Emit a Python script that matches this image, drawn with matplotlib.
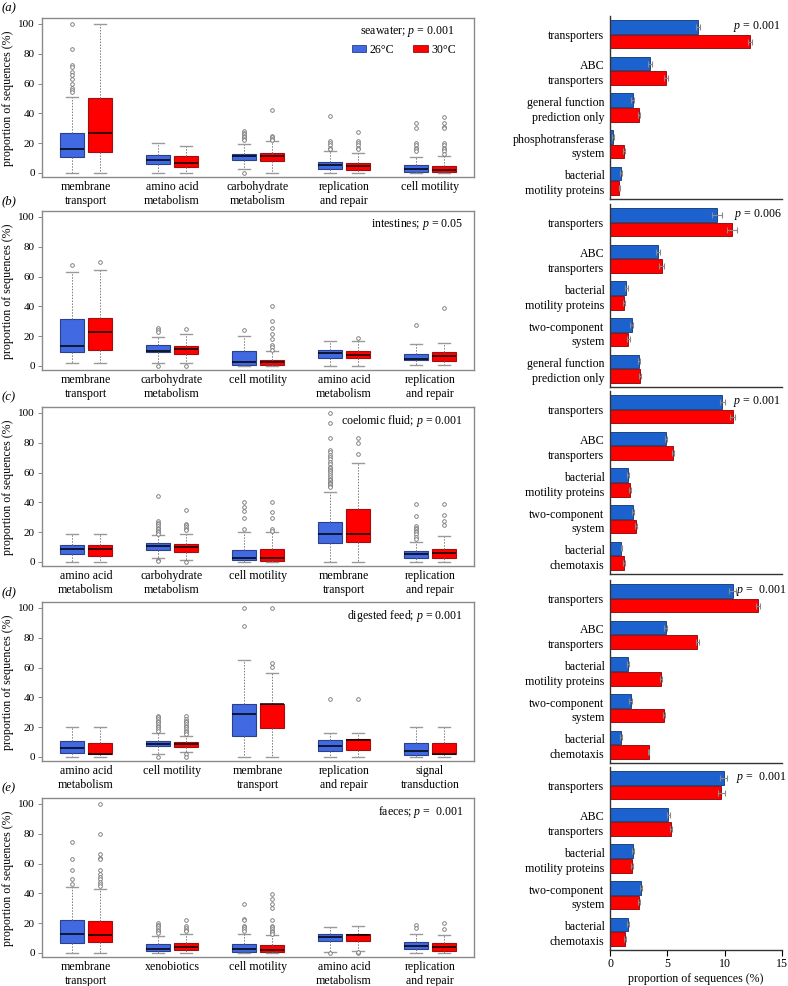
import matplotlib
matplotlib.use("Agg")
import matplotlib.pyplot as plt
from matplotlib.patches import Patch

plt.rcParams['font.family'] = ['Liberation Serif', 'DejaVu Serif']
plt.rcParams['mathtext.fontset'] = 'custom'
plt.rcParams['mathtext.it'] = 'Liberation Serif:italic'
plt.rcParams['mathtext.rm'] = 'Liberation Serif'

# ---------------- data: left panels (boxplots: lo, q1, median, q3, hi) ----------------
A_CATS = ["membrane\ntransport", "amino acid\nmetabolism", "carbohydrate\nmetabolism", "replication\nand repair", "cell motility"]
A_26 = [[0, 10.5, 16, 26.8, 51], [0, 5.8, 9, 12.3, 20], [2.5, 9, 11.2, 13, 19.5], [0, 3, 5.4, 7.4, 14.5], [0, 0.7, 3, 5.4, 10.7]]
A_26_OUT = [[100, 83, 72.5, 71, 68, 65.5, 63, 60, 57, 56, 54.5], [], [28, 27, 26, 25, 24, 23, 22, 0], [38, 21.5, 20, 18.5, 17, 16], [33.5, 30, 20, 18.5, 17, 16, 14.5]]
A_30 = [[0, 14.3, 27, 50, 100], [0, 4, 6.5, 11.2, 18], [0, 8, 11.2, 13.4, 21.5], [0, 1.8, 4.7, 6.7, 13.6], [0, 0.4, 2.2, 4.7, 11.2]]
A_30_OUT = [[], [], [42, 25, 24, 23, 22], [27.5, 21.7, 20, 18.8, 17, 16], [37.6, 33.5, 31, 30, 20, 18.5, 17, 16, 14.5, 12.5]]
A_TITLE = "seawater; $p$ = 0.001"

B_CATS = ["membrane\ntransport", "carbohydrate\nmetabolism", "cell motility", "amino acid\nmetabolism", "replication\nand repair"]
B_26 = [[2.2, 9.6, 13.4, 31.8, 63], [2.2, 9.2, 10.3, 14.3, 19.2], [0, 0.9, 2.9, 9.8, 20.4], [0, 5.4, 9, 11, 16.6], [0.4, 3.8, 4.7, 8.3, 14.8]]
B_26_OUT = [[68], [25.5, 24.4, 23, 0], [24], [], [27.3]]
B_30 = [[2.2, 10.7, 23, 32.4, 64.4], [2.2, 8.3, 11.4, 13.6, 21.3], [0, 0.7, 2.5, 4.3, 10], [0, 5.4, 7.6, 9.8, 17], [0.4, 3.4, 6.7, 9.2, 15.7]]
B_30_OUT = [[70], [25, 0], [40, 30, 25.5, 21.5, 18.3, 13.9, 12.8, 11], [18.8], [38.7]]
B_TITLE = "intestines; $p$ = 0.05"

C_CATS = ["amino acid\nmetabolism", "carbohydrate\nmetabolism", "cell motility", "membrane\ntransport", "replication\nand repair"]
C_26 = [[0, 5.4, 9, 11.7, 18.9], [2.7, 8.3, 10.6, 12.4, 17.8], [0, 1.1, 2.9, 8.3, 19.8], [0, 13, 18.9, 27, 46.7], [0, 2.9, 5.2, 7.2, 13.5]]
C_26_OUT = [[], [44, 27.4, 26.3, 25.2, 24, 23, 22, 21, 20, 19, 1.5, 0.5], [40, 37, 34, 29.7, 21.8],
            [100, 93.3, 83, 75, 73.5, 72, 70.5, 69, 67, 65.5, 64, 63, 62, 61, 60, 58.5, 57, 56, 55, 54, 53, 52, 51, 50.5],
            [38.6, 31, 24.3, 23, 22, 21, 20, 18.5, 17, 15.3]]
C_30 = [[0, 4.3, 8.8, 11.5, 18.9], [1.1, 6.7, 9.9, 12.1, 19.1], [0, 0.9, 2.9, 8.8, 19.8], [0, 13.3, 19.1, 35.7, 66.7], [0, 2.9, 5.8, 9, 17.5]]
C_30_OUT = [[], [34.6, 25.8, 24.7, 23.5, 22.4, 21.3, 0], [40, 33.3, 29.7, 21.8, 20.9], [83.4, 79.8, 72.6], [38.6, 31.7, 27.4, 24.7]]
C_TITLE = "coelomic fluid; $p$ = 0.001"

D_CATS = ["amino acid\nmetabolism", "cell motility", "membrane\ntransport", "replication\nand repair", "signal\ntransduction"]
D_26 = [[0, 2.6, 5.7, 10.8, 19.9], [2, 7.1, 8.6, 11, 16.3], [0, 14.1, 29.1, 35.5, 65.1], [0, 3.8, 7.7, 11.7, 15.9], [0, 1.3, 4, 9.7, 19.9]]
D_26_OUT = [[], [27.6, 26.5, 25.4, 24.3, 23.2, 22.1, 21, 19.9, 18.8, 17.7, 0], [100, 87.9], [38.6], []]
D_30 = [[0, 1.8, 2.2, 9.7, 19.9], [3.1, 6.8, 8.4, 9.9, 14.1], [0, 19.6, 35.5, 35.8, 56.5], [0, 4.4, 11.5, 11.9, 15.9], [0, 1.8, 2.0, 9.7, 19.9]]
D_30_OUT = [[], [27.6, 25.4, 24.3, 23.2, 22.1, 21, 19.9, 18.8, 17.7, 16.6, 15.5, 1.8, 0], [100, 62.9, 60.3], [38.6], []]
D_TITLE = "digested feed; $p$ = 0.001"

E_CATS = ["membrane\ntransport", "xenobiotics", "cell motility", "amino acid\nmetabolism", "replication\nand repair"]
E_26 = [[0, 6.5, 13, 22.4, 44.5], [0, 1.3, 2.7, 5.8, 11.6], [0, 0.9, 2.9, 6.3, 13], [0.9, 8, 11, 13, 17.7], [0, 3, 5, 7.5, 13]]
E_26_OUT = [[74.3, 62.9, 55.5, 49.9, 46.5], [20.1, 19, 17.9, 16.8, 15.7, 14.6, 13.4], [33.1, 23, 21.9, 18.3, 17.2, 16.1, 15], [0], [18.5, 17]]
E_30 = [[0, 7.6, 11.9, 21.5, 42.7], [0, 2, 4, 6.9, 13], [0, 0.9, 2.2, 5.6, 12.3], [1.6, 8.3, 12, 13, 18.3], [0, 1.5, 4, 7, 12]]
E_30_OUT = [[100, 80, 66.2, 64, 62.9, 55.5, 53.2, 51, 49.4, 47.6, 46, 44.7], [21.9, 17.9, 16.8, 15.7, 14.5],
            [39.8, 36.2, 33.1, 30, 21.9, 18.3, 17.2, 16.1, 15, 13.9, 12.8], [0, 0.5], [20, 16]]
E_TITLE = "faeces; $p$ =  0.001"

Y_TICKS = [0, 20, 40, 60, 80, 100]

# ---------------- data: right panels (mean proportion, error) ----------------
RA_CATS = ["transporters", "ABC\ntransporters", "general function\nprediction only", "phosphotransferase\nsystem", "bacterial\nmotility proteins"]
RA_26 = [7.67, 3.49, 1.97, 0.29, 0.96]
RA_30 = [12.2, 4.88, 2.55, 1.25, 0.81]
RA_26_ERR = [0.2, 0.15, 0.12, 0.1, 0.1]
RA_30_ERR = [0.2, 0.15, 0.1, 0.1, 0.05]
RA_P = "$p$ = 0.001"

RB_CATS = ["transporters", "ABC\ntransporters", "bacterial\nmotility proteins", "two-component\nsystem", "general function\nprediction only"]
RB_26 = [9.36, 4.18, 1.42, 1.89, 2.5]
RB_30 = [10.66, 4.5, 1.22, 1.6, 2.6]
RB_26_ERR = [0.45, 0.2, 0.12, 0.12, 0.1]
RB_30_ERR = [0.45, 0.2, 0.12, 0.12, 0.08]
RB_P = "$p$ = 0.006"

RC_CATS = ["transporters", "ABC\ntransporters", "bacterial\nmotility proteins", "two-component\nsystem", "bacterial\nchemotaxis"]
RC_26 = [9.8, 4.9, 1.6, 2.0, 1.0]
RC_30 = [10.7, 5.5, 1.75, 2.26, 1.2]
RC_26_ERR = [0.2, 0.1, 0.1, 0.1, 0.08]
RC_30_ERR = [0.2, 0.1, 0.1, 0.1, 0.08]
RC_P = "$p$ = 0.001"

RD_CATS = ["transporters", "ABC\ntransporters", "bacterial\nmotility proteins", "two-component\nsystem", "bacterial\nchemotaxis"]
RD_26 = [10.7, 4.85, 1.54, 1.8, 0.99]
RD_30 = [12.9, 7.6, 4.45, 4.68, 3.37]
RD_26_ERR = [0.3, 0.12, 0.1, 0.1, 0.08]
RD_30_ERR = [0.2, 0.12, 0.1, 0.1, 0.05]
RD_P = "$p$ =  0.001"

RE_CATS = ["transporters", "ABC\ntransporters", "bacterial\nmotility proteins", "two-component\nsystem", "bacterial\nchemotaxis"]
RE_26 = [9.9, 5.1, 2.03, 2.68, 1.54]
RE_30 = [9.7, 5.32, 1.89, 2.5, 1.34]
RE_26_ERR = [0.3, 0.12, 0.1, 0.1, 0.08]
RE_30_ERR = [0.3, 0.12, 0.1, 0.1, 0.08]
RE_P = "$p$ =  0.001"

X_TICKS = [0, 5, 10, 15]
PANEL_LABELS = ["(a)", "(b)", "(c)", "(d)", "(e)"]

# ---------------- style ----------------
BLUE_BOX = "#4169E1"
BLUE_BOX_EDGE = "#2B3F8A"
RED_BOX = "#FF0000"
RED_BOX_EDGE = "#A01010"
BLUE_BAR = "#1C62CF"
BLUE_BAR_EDGE = "#0F3572"
RED_BAR = "#FF0000"
RED_BAR_EDGE = "#8A0000"
FRAME = "#8A8A8A"
FS = 8.6
FS_TICK = 8.0

W, H = 788, 986
fig = plt.figure(figsize=(W / 100, H / 100), dpi=100)


def ax_at(x0, y0, x1, y1):
    return fig.add_axes([x0 / W, 1 - y1 / H, (x1 - x0) / W, (y1 - y0) / H])


def stats_of(five, outs):
    res = []
    for f, o in zip(five, outs):
        res.append(dict(whislo=f[0], q1=f[1], med=f[2], q3=f[3], whishi=f[4], fliers=o, label=""))
    return res


def draw_box_panel(ax, cats, s26, o26, s30, o30, title, legend=False):
    n = len(cats)
    centers = list(range(1, n + 1))
    off = 0.163
    for five, outs, fc, ec, d in [(s26, o26, BLUE_BOX, BLUE_BOX_EDGE, -off), (s30, o30, RED_BOX, RED_BOX_EDGE, off)]:
        st = stats_of(five, outs)
        ax.bxp(st, positions=[c + d for c in centers], widths=0.27, capwidths=0.14,
               patch_artist=True, showfliers=True,
               boxprops=dict(facecolor=fc, edgecolor=ec, linewidth=0.8),
               medianprops=dict(color="black", linewidth=1.1),
               whiskerprops=dict(color="#7a7a7a", linewidth=0.7, linestyle=(0, (1.5, 1.5))),
               capprops=dict(color="#9a9a9a", linewidth=1.0),
               flierprops=dict(marker="o", markersize=2.6, markerfacecolor="white",
                               markeredgecolor="#707070", markeredgewidth=0.6, linestyle="none"))
    ax.set_xlim(0.488, 5.512)
    ax.set_ylim(-2.7, 104)
    ax.set_xticks(centers)
    ax.set_xticklabels(cats, fontsize=FS, linespacing=1.15)
    ax.tick_params(axis="x", length=0, pad=3)
    ax.set_yticks(Y_TICKS)
    ax.set_yticklabels([str(v) for v in Y_TICKS], fontsize=FS_TICK)
    ax.tick_params(axis="y", length=3, width=0.7, color=FRAME, pad=2)
    for sp in ax.spines.values():
        sp.set_color(FRAME)
        sp.set_linewidth(1.0)
    if legend:
        ax.text(0.954, 0.915, title, transform=ax.transAxes, ha="right", va="center", fontsize=FS)
        handles = [Patch(facecolor=BLUE_BOX, edgecolor=BLUE_BOX_EDGE, linewidth=0.6),
                   Patch(facecolor=RED_BOX, edgecolor=RED_BOX_EDGE, linewidth=0.6)]
        ax.legend(handles, ["26\u00b0C", "30\u00b0C"], ncol=2, frameon=False, fontsize=FS,
                  loc="center right", bbox_to_anchor=(0.975, 0.80), handlelength=1.2,
                  handleheight=0.5, handletextpad=0.3, columnspacing=1.6, borderpad=0.1)
    else:
        ax.text(0.975, 0.915, title, transform=ax.transAxes, ha="right", va="center", fontsize=FS)


def draw_bar_panel(ax, cats, v26, v30, e26, e30, ptxt, px, last=False):
    n = len(cats)
    ys = list(range(n))
    ax.barh([y - 0.2 for y in ys], v26, height=0.37, color=BLUE_BAR, edgecolor=BLUE_BAR_EDGE, linewidth=0.6,
            xerr=e26, error_kw=dict(ecolor="#8a8a8a", elinewidth=0.8, capsize=2, capthick=0.8))
    ax.barh([y + 0.2 for y in ys], v30, height=0.37, color=RED_BAR, edgecolor=RED_BAR_EDGE, linewidth=0.6,
            xerr=e30, error_kw=dict(ecolor="#8a8a8a", elinewidth=0.8, capsize=2, capthick=0.8))
    ax.set_ylim(n - 0.5, -0.5)
    ax.set_xlim(0, 15)
    ax.set_yticks(ys)
    ax.set_yticklabels(cats, fontsize=FS, linespacing=1.3)
    ax.tick_params(axis="y", length=0, pad=4)
    for s in ["top", "right"]:
        ax.spines[s].set_visible(False)
    ax.spines["left"].set_color("#333333")
    ax.spines["bottom"].set_color("#333333")
    ax.spines["left"].set_linewidth(1.0)
    ax.spines["bottom"].set_linewidth(1.0)
    ax.text(px, 0.945, ptxt, transform=ax.transAxes, ha="right", va="center", fontsize=FS, clip_on=False)
    if last:
        ax.set_xticks(X_TICKS)
        ax.set_xticklabels([str(v) for v in X_TICKS], fontsize=FS)
        ax.tick_params(axis="x", length=4, width=0.8, pad=2)
        ax.set_xlabel("proportion of sequences (%)", fontsize=FS, labelpad=2)
    else:
        ax.set_xticks([])


left_tops = [18, 211, 407, 602, 798]
right_tops = [16, 204, 391, 580, 767]
p_right = [0.988, 0.995, 0.988, 1.023, 1.023]

left_data = [(A_CATS, A_26, A_26_OUT, A_30, A_30_OUT, A_TITLE),
             (B_CATS, B_26, B_26_OUT, B_30, B_30_OUT, B_TITLE),
             (C_CATS, C_26, C_26_OUT, C_30, C_30_OUT, C_TITLE),
             (D_CATS, D_26, D_26_OUT, D_30, D_30_OUT, D_TITLE),
             (E_CATS, E_26, E_26_OUT, E_30, E_30_OUT, E_TITLE)]
right_data = [(RA_CATS, RA_26, RA_30, RA_26_ERR, RA_30_ERR, RA_P),
              (RB_CATS, RB_26, RB_30, RB_26_ERR, RB_30_ERR, RB_P),
              (RC_CATS, RC_26, RC_30, RC_26_ERR, RC_30_ERR, RC_P),
              (RD_CATS, RD_26, RD_30, RD_26_ERR, RD_30_ERR, RD_P),
              (RE_CATS, RE_26, RE_30, RE_26_ERR, RE_30_ERR, RE_P)]

for i, (top, d) in enumerate(zip(left_tops, left_data)):
    ax = ax_at(42, top, 474, top + 159)
    draw_box_panel(ax, *d, legend=(i == 0))
    fig.text(8 / W, 1 - (top + 80) / H, "proportion of sequences (%)", rotation=90,
             ha="center", va="center", fontsize=FS)
    fig.text(2 / W, 1 - (top - 10) / H, PANEL_LABELS[i], ha="left", va="center",
             fontsize=FS + 0.6, style="italic")

for i, (top, d) in enumerate(zip(right_tops, right_data)):
    ax = ax_at(610, top, 782, top + 183)
    draw_bar_panel(ax, *d, px=p_right[i], last=(i == 4))

fig.savefig("out.png", dpi=100)
